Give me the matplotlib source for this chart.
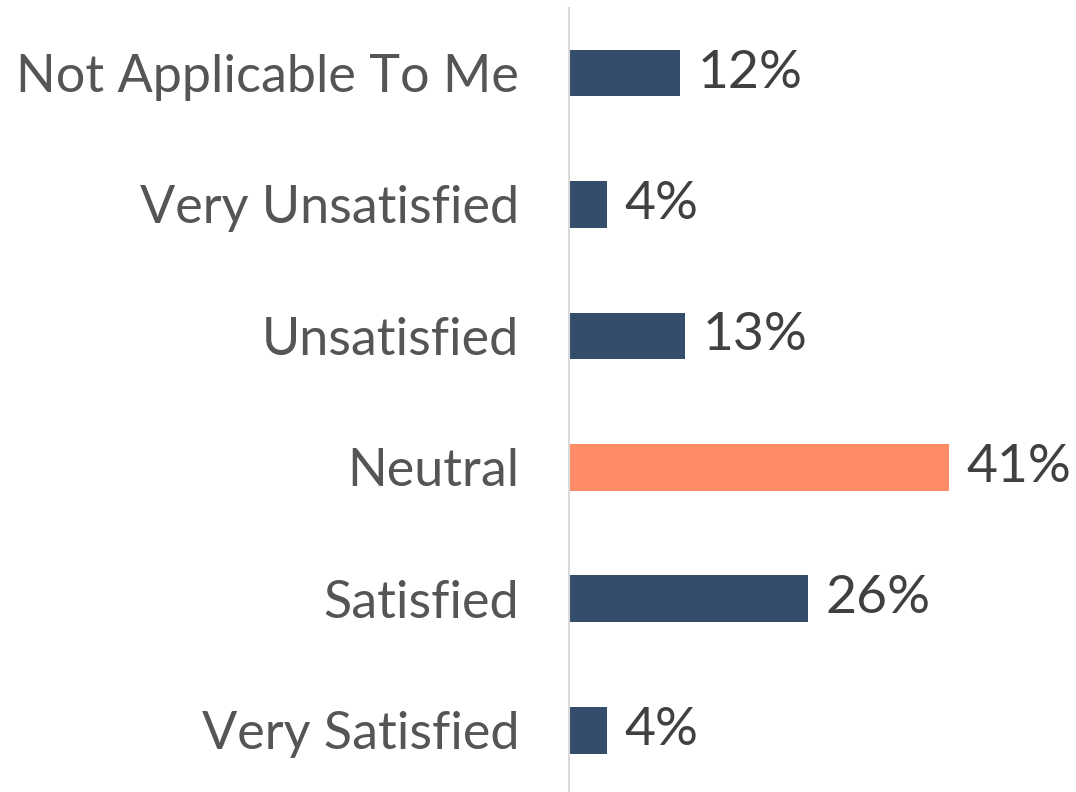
import matplotlib
matplotlib.use("Agg")
import matplotlib.pyplot as plt

categories = ["Not Applicable To Me", "Very Unsatisfied", "Unsatisfied",
              "Neutral", "Satisfied", "Very Satisfied"]
values = [12, 4.1, 12.5, 41, 25.8, 4.1]
value_labels = ["12%", "4%", "13%", "41%", "26%", "4%"]
highlight = "Neutral"

plt.rcParams['font.family'] = ['Lato', 'DejaVu Sans']

fig = plt.figure(figsize=(10.76, 7.92), dpi=100)
ax = fig.add_axes([569/1076, 0, 1 - 569/1076, 784/792])

blue = "#334d6b"
orange = "#ff8c66"
colors = [orange if c == highlight else blue for c in categories]
pos = list(range(len(categories)))
ax.barh(pos, values, height=0.355, color=colors)

ax.set_xlim(0, (1076 - 569) / (380 / 41))
ax.set_ylim(5.47, -0.495)

for p, v, lab in zip(pos, values, value_labels):
    ax.text(v + 1.9, p, lab, va="center", ha="left", fontsize=38.5, color="#404040")

ax.set_yticks(pos)
ax.set_yticklabels(categories, fontsize=37.5, color="#555555")
ax.tick_params(axis="y", length=0, pad=36)
ax.set_xticks([])
for s in ["top", "right", "bottom"]:
    ax.spines[s].set_visible(False)
ax.spines["left"].set_color("#d9d9d9")
ax.spines["left"].set_linewidth(1.5)

fig.savefig("out.png", dpi=100)
